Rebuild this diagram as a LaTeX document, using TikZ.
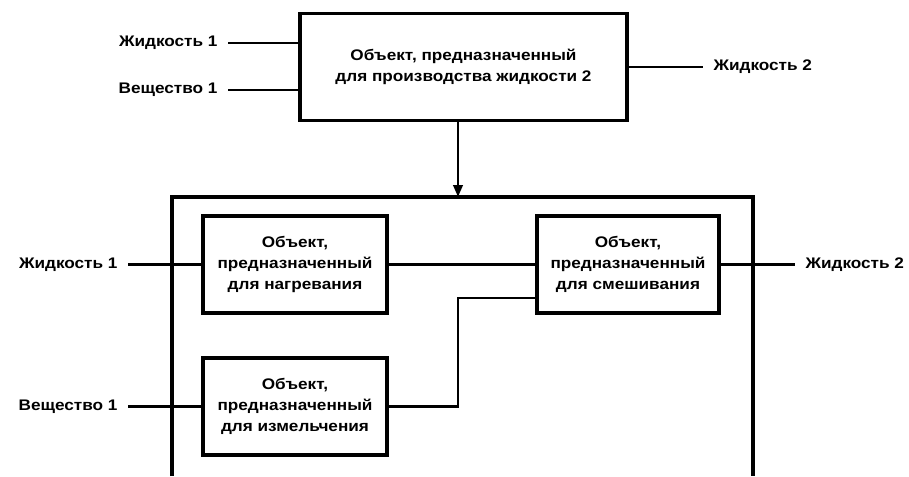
\documentclass[tikz,border=0pt]{standalone}
\usepackage{fontspec}
\setmainfont{Liberation Sans}[FakeStretch=1.12]
\usetikzlibrary{arrows.meta}

\tikzset{every picture/.style={line width=0.75pt}}
\tikzset{
  unit/.style={draw, line width=2.4pt, align=center, inner sep=0pt,
    font=\bfseries\fontsize{11.5}{16}\selectfont},
  stream/.style={inner ysep=0pt, inner xsep=7.5pt,
    font=\bfseries\fontsize{11.5}{16}\selectfont},
  pipe/.style={line width=2.1pt},
  frame/.style={line width=2.4pt}
}

\begin{document}
\begin{tikzpicture}[x=0.75pt,y=0.75pt,yscale=-1,xscale=1]
%set diagram to the size of the reference
\useasboundingbox (0,0) rectangle (909,476);

%Shape: Rectangle [object for production]
\node [unit, minimum width=245.25pt, minimum height=80.25pt] (obj) at (463.5,67) {Объект, предназначенный\\для производства жидкости 2};

%Shape: Rectangle [plant, open at the bottom]
\coordinate (plantSW) at (172,476);
\coordinate (plantNW) at (172,197);
\coordinate (plantNE) at (753,197);
\coordinate (plantSE) at (753,476);
\draw [frame] (plantSW) -- (plantNW) -- (plantNE) -- (plantSE);

%Shape: Rectangle [heating]
\node [unit, minimum width=138pt, minimum height=72.75pt] (heat) at (295,264.5) {Объект,\\предназначенный\\для нагревания};
%Shape: Rectangle [mixing]
\node [unit, minimum width=136.5pt, minimum height=72.75pt] (mix) at (628,264.5) {Объект,\\предназначенный\\для смешивания};
%Shape: Rectangle [grinding]
\node [unit, minimum width=138pt, minimum height=72.75pt] (grind) at (295,406.5) {Объект,\\предназначенный\\для измельчения};

% Text Node
\node [stream, anchor=east] (liqA) at (228,43) {Жидкость 1};
\node [stream, anchor=east] (subA) at (228,90) {Вещество 1};
\node [stream, anchor=west] (liqB) at (703,67) {Жидкость 2};
\node [stream, anchor=east] (liqC) at (128,264.5) {Жидкость 1};
\node [stream, anchor=east] (subC) at (128,406.5) {Вещество 1};
\node [stream, anchor=west] (liqD) at (795,264.5) {Жидкость 2};

%Straight Lines
\draw [pipe] (liqA.east) -- (liqA.east -| obj.west);
\draw [pipe] (subA.east) -- (subA.east -| obj.west);
\draw [pipe] (obj.east) -- (liqB.west);
\coordinate (drop) at (458,197);
\draw [pipe, -{Triangle[width=7pt,length=9pt]}] (drop |- obj.south) -- (drop);

\draw [pipe] (liqC.east) -- (heat.west);
\draw [pipe] (subC.east) -- (grind.west);
\draw [pipe] (heat.east) -- (mix.west);
\coordinate (bend) at (458,298);
\draw [pipe] (grind.east) -| (bend) -- (bend -| mix.west);
\draw [pipe] (mix.east) -- (liqD.west);

\end{tikzpicture}
\end{document}
